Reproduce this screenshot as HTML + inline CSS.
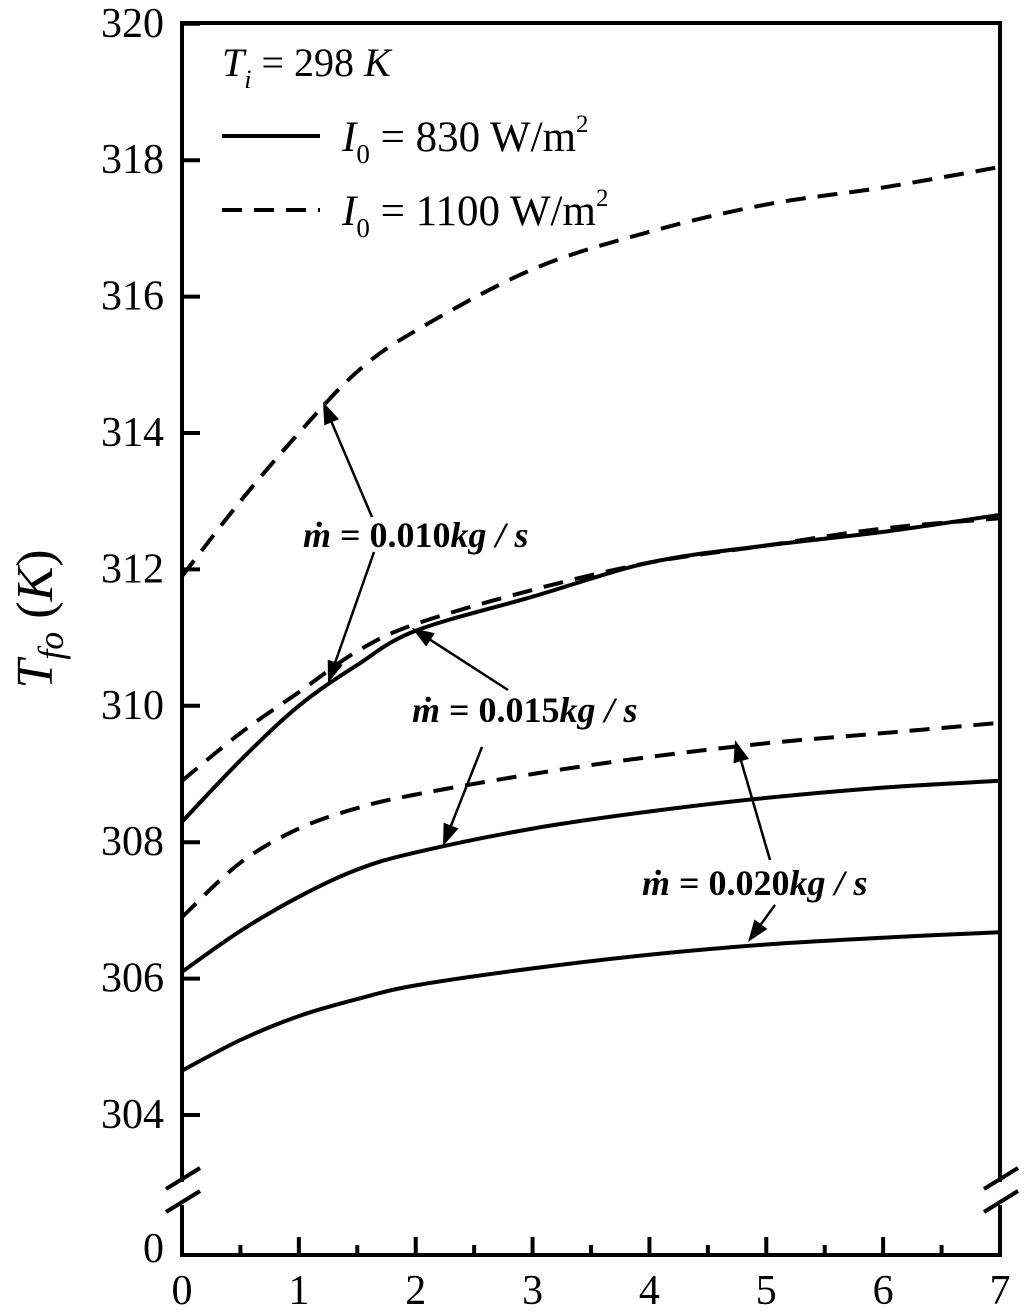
<!DOCTYPE html>
<html><head><meta charset="utf-8"><style>
html,body{margin:0;padding:0;background:#fff;}
svg{display:block;font-family:"Liberation Serif",serif;}
</style></head><body>
<svg id="chart" width="1024" height="1315" viewBox="0 0 1024 1315">
<g id="frame"></g><g id="series"></g><g id="annot"></g>
</svg>
<script>
const xs = [0, 0.5, 1, 1.5, 2, 3, 4, 5, 6, 7];
const solid010 = [308.3, 309.2, 310.0, 310.6, 311.1, 311.6, 312.1, 312.35, 312.55, 312.8];
const solid015 = [306.1, 306.7, 307.2, 307.6, 307.85, 308.2, 308.45, 308.65, 308.8, 308.9];
const solid020 = [304.65, 305.1, 305.45, 305.7, 305.9, 306.15, 306.35, 306.5, 306.6, 306.68];
const dash010 = [311.9, 313.0, 314.0, 314.9, 315.5, 316.4, 316.95, 317.35, 317.6, 317.9];
const dash015 = [308.9, 309.6, 310.2, 310.8, 311.2, 311.7, 312.1, 312.35, 312.6, 312.75];
const dash020 = [306.9, 307.7, 308.2, 308.5, 308.7, 309.0, 309.25, 309.45, 309.6, 309.75];
const xTicks = [0,1,2,3,4,5,6,7];
const yTicks = [304,306,308,310,312,314,316,318,320];

const NS="http://www.w3.org/2000/svg";
const L=182,R=1000,T=23,B=1255;
const X=v=>L+(v/7)*(R-L);
const Y=v=>1115-(v-304)*68.2;
function mk(tag,attrs,parent){const e=document.createElementNS(NS,tag);for(const k in attrs)e.setAttribute(k,attrs[k]);parent.appendChild(e);return e;}
const frame=document.getElementById('frame'),series=document.getElementById('series'),annot=document.getElementById('annot');

let p1=mk('polyline',{points:`${L},1182 ${L},${T} ${R},${T} ${R},1182`,fill:'none',stroke:'#000','stroke-width':4},frame);

let p2=mk('polyline',{points:`${L},1205 ${L},${B} ${R},${B} ${R},1205`,fill:'none',stroke:'#000','stroke-width':4},frame);

[L,R].forEach(x=>{
 [1180,1203].forEach(y=>{let b=mk('line',{x1:x-16,y1:y+9,x2:x+18,y2:y-12,stroke:'#000','stroke-width':4},frame);
 });
});
for(let i=0;i<=14;i++){const v=i/2;const major=i%2===0;
 let t=mk('line',{x1:X(v),y1:B,x2:X(v),y2:B-(major?18:10),stroke:'#000','stroke-width':4},frame);
 }
xTicks.forEach(v=>{let t=mk('text',{x:X(v),y:1304,'font-size':42,'text-anchor':'middle'},frame);t.textContent=v;
 });
yTicks.forEach(v=>{
 let t=mk('line',{x1:L,y1:Y(v),x2:L+18,y2:Y(v),stroke:'#000','stroke-width':4},frame);
 
 let lb=mk('text',{x:164,y:Y(v)+13,'font-size':42,'text-anchor':'end'},frame);lb.textContent=v;
 
});
let z=mk('text',{x:164,y:1262,'font-size':42,'text-anchor':'end'},frame);z.textContent='0';

let yt=mk('text',{transform:'translate(52,619) rotate(-90)','font-size':52,'font-style':'italic','text-anchor':'middle'},frame);
yt.innerHTML='T<tspan font-size="36" dy="11">fo</tspan><tspan dy="-11" font-style="normal"> (</tspan>K<tspan font-style="normal">)</tspan>';


function smoothLine(arr,dashed,name){
 const pts=arr.map((v,i)=>[X(xs[i]),Y(v)]);
 let d='M'+pts[0].join(',');
 for(let i=0;i<pts.length-1;i++){const p0=pts[i-1]||pts[i],p1=pts[i],p2=pts[i+1],p3=pts[i+2]||p2;
  const c1=[p1[0]+(p2[0]-p0[0])/6,p1[1]+(p2[1]-p0[1])/6],c2=[p2[0]-(p3[0]-p1[0])/6,p2[1]-(p3[1]-p1[1])/6];
  d+=` C${c1[0].toFixed(1)},${c1[1].toFixed(1)} ${c2[0].toFixed(1)},${c2[1].toFixed(1)} ${p2[0].toFixed(1)},${p2[1].toFixed(1)}`;}
 const attrs={d,fill:'none',stroke:'#000','stroke-width':4};
 if(dashed)attrs['stroke-dasharray']='20,12';
 let p=mk('path',attrs,series);
 
}
smoothLine(solid010,false,'series-830-m0010');
smoothLine(solid015,false,'series-830-m0015');
smoothLine(solid020,false,'series-830-m0020');
smoothLine(dash010,true,'series-1100-m0010');
smoothLine(dash015,true,'series-1100-m0015');
smoothLine(dash020,true,'series-1100-m0020');

let lg=mk('g',{},annot);
let ti=mk('text',{x:222,y:76,'font-size':40},lg);
ti.innerHTML='<tspan font-style="italic">T</tspan><tspan font-style="italic" font-size="26" dy="12">i</tspan><tspan dy="-12"> = 298 </tspan><tspan font-style="italic">K</tspan>';

mk('line',{x1:222,y1:136,x2:320,y2:136,stroke:'#000','stroke-width':4},lg);
mk('line',{x1:222,y1:210,x2:320,y2:210,stroke:'#000','stroke-width':4,'stroke-dasharray':'20,12'},lg);
let e1=mk('text',{x:342,y:151,'font-size':43},lg);
e1.innerHTML='<tspan font-style="italic">I</tspan><tspan font-size="27" dy="12">0</tspan><tspan dy="-12"> = 830 W/m</tspan><tspan font-size="25" dy="-19">2</tspan>';

let e2=mk('text',{x:342,y:225,'font-size':43},lg);
e2.innerHTML='<tspan font-style="italic">I</tspan><tspan font-size="27" dy="12">0</tspan><tspan dy="-12"> = 1100 W/m</tspan><tspan font-size="25" dy="-19">2</tspan>';


function label(x,y,val,name){let t=mk('text',{x,y,'font-size':36,'font-weight':'bold'},annot);
 t.innerHTML=`<tspan font-style="italic">ṁ</tspan> = ${val}<tspan font-style="italic">kg / s</tspan>`;
 }
function arrow(x1,y1,x2,y2){const a=Math.atan2(y2-y1,x2-x1),l=22,w=8;
 let g=mk('g',{},annot);
 mk('line',{x1,y1,x2:x2-Math.cos(a)*l*0.8,y2:y2-Math.sin(a)*l*0.8,stroke:'#000','stroke-width':2.5},g);
 const bx=x2-Math.cos(a)*l,by=y2-Math.sin(a)*l;
 mk('polygon',{points:`${x2},${y2} ${bx+Math.sin(a)*w},${by-Math.cos(a)*w} ${bx-Math.sin(a)*w},${by+Math.cos(a)*w}`,fill:'#000'},g);}
label(303,547,'0.010','label-m0010');
arrow(372,517,323,402);arrow(374,552,328,683);
label(412,722,'0.015','label-m0015');
arrow(508,690,412,628);arrow(482,747,443,846);
label(642,895,'0.020','label-m0020');
arrow(770,860,735,740);arrow(775,905,748,942);
</script>
</body></html>
